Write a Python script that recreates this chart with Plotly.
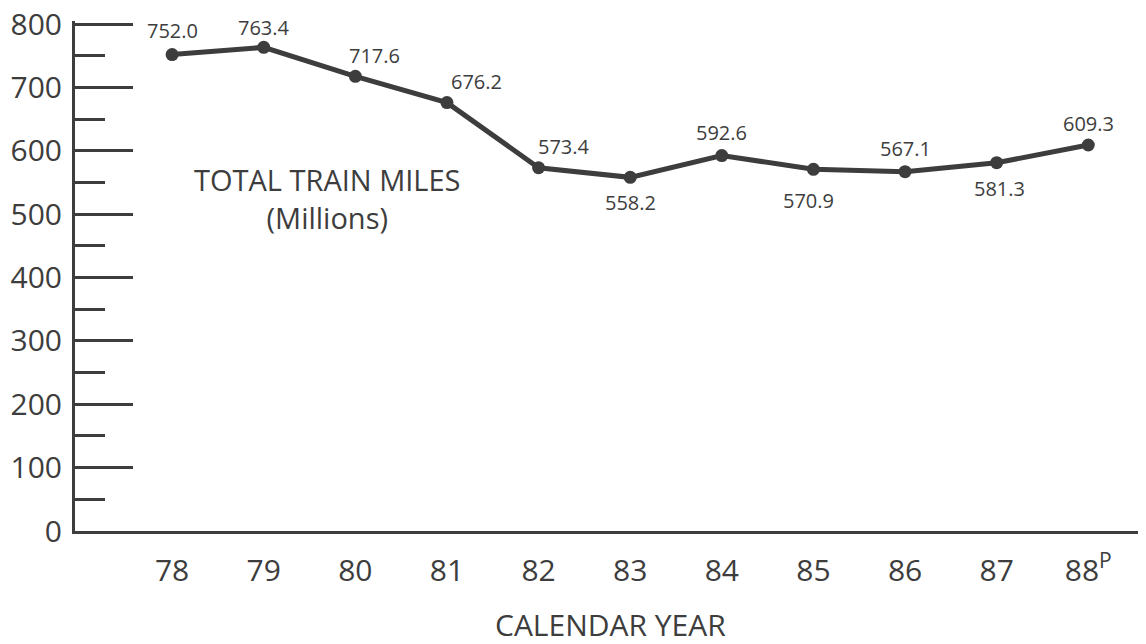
import plotly.graph_objects as go

years = [78, 79, 80, 81, 82, 83, 84, 85, 86, 87, 88]
year_labels = ["78", "79", "80", "81", "82", "83", "84", "85", "86", "87", "88<sup>P</sup>"]
train_miles = [752.0, 763.4, 717.6, 676.2, 573.4, 558.2, 592.6, 570.9, 567.1, 581.3, 609.3]
value_labels = ["752.0", "763.4", "717.6", "676.2", "573.4", "558.2", "592.6", "570.9", "567.1", "581.3", "609.3"]
y_ticks = [0, 100, 200, 300, 400, 500, 600, 700, 800]

# label placement (style): pixel shifts relative to each point
label_shift_x = [0, 0, 19, 30, 25, 0, 0, -5, 0, 3, 0]
label_shift_y = [24, 20, 21, 21, 21, -25, 23, -31, 23, -26, 21]

INK = "#3d3d3d"
FONT = "Open Sans"

fig = go.Figure()
fig.add_trace(go.Scatter(
    x=years, y=train_miles, mode="lines+markers",
    line=dict(color=INK, width=5),
    marker=dict(color=INK, size=13),
    hoverinfo="x+y", showlegend=False,
))

for x, y, t, dx, dy in zip(years, train_miles, value_labels, label_shift_x, label_shift_y):
    fig.add_annotation(x=x, y=y, text=t, showarrow=False,
                       xshift=dx, yshift=dy, xanchor="center", yanchor="middle",
                       font=dict(family=FONT, size=20, color=INK))

fig.add_annotation(xref="paper", yref="paper", x=0.236, y=0.652,
                   xanchor="center", yanchor="middle",
                   text="TOTAL TRAIN MILES<br>(Millions)", showarrow=False,
                   align="center", font=dict(family=FONT, size=29, color=INK))

fig.add_annotation(xref="paper", yref="paper", x=0.5, y=-0.183,
                   xanchor="center", yanchor="middle",
                   text="CALENDAR YEAR", showarrow=False,
                   font=dict(family=FONT, size=30, color=INK))

# page has an 8px body margin, so the figure is sized to fit the visible window
fig.update_layout(
    width=1138, height=636,
    margin=dict(l=67, r=0, t=13, b=113),
    paper_bgcolor="white", plot_bgcolor="white",
    font=dict(family=FONT, color=INK),
    xaxis=dict(
        range=[76.94, 88.63], tickmode="array", tickvals=years, ticktext=year_labels,
        showgrid=False, zeroline=False, showline=True, linecolor=INK, linewidth=3,
        ticks="", ticklabelstandoff=11, automargin=False,
        tickfont=dict(family=FONT, size=30, color=INK),
    ),
    yaxis=dict(
        range=[0, 805], tickmode="array", tickvals=y_ticks,
        showgrid=False, zeroline=False, showline=True, linecolor=INK, linewidth=3,
        ticks="inside", ticklen=58, tickwidth=3, tickcolor=INK, automargin=False,
        ticklabelstandoff=4, ticklabeloverflow="allow",
        tickfont=dict(family=FONT, size=30, color=INK),
        minor=dict(dtick=50, tick0=0, ticks="inside", ticklen=30, tickwidth=3, tickcolor=INK, showgrid=False),
    ),
)

fig.write_html("out.html")
